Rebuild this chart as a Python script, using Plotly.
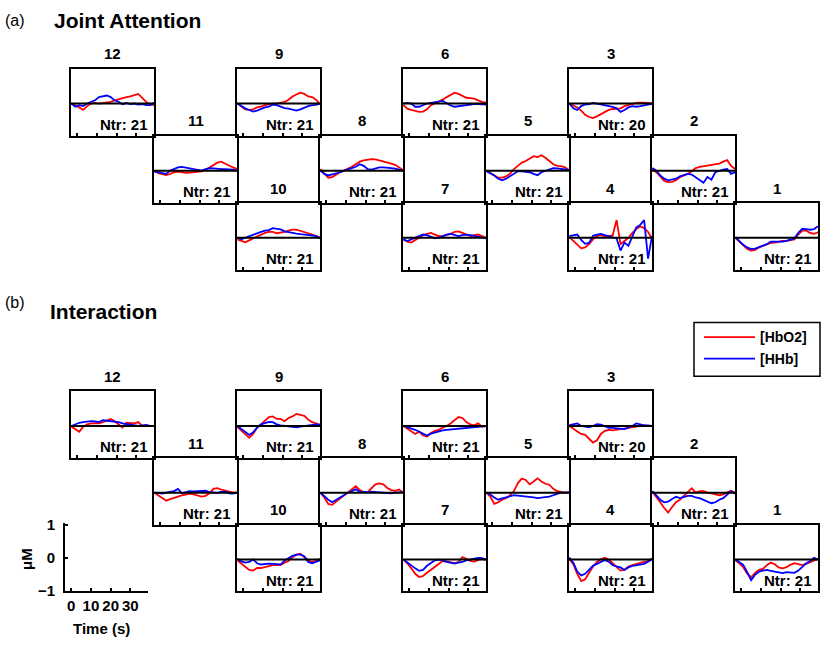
import plotly.graph_objects as go

# ---------------- data ----------------
TIME_S = [-3, -1, 1, 3, 5, 7, 9, 11, 13, 15, 17, 19, 21, 23, 25, 27, 29, 31, 33, 35, 37, 39]
X_TICKS = [0, 10, 20, 30]
X_TICK_TEXT = ["0", "10", "20", "30"]
Y_TICKS = [-1, 0, 1]
SERIES_NAMES = ["[HbO2]", "[HHb]"]
PANEL_LABELS = ["(a)", "(b)"]
PANEL_TITLES = ["Joint Attention", "Interaction"]
NTR_JOINT = {1: 21, 2: 21, 3: 20, 4: 21, 5: 21, 6: 21, 7: 21, 8: 21, 9: 21, 10: 21, 11: 21, 12: 21}
NTR_INTER = {1: 21, 2: 21, 3: 20, 4: 21, 5: 21, 6: 21, 7: 21, 8: 21, 9: 21, 10: 21, 11: 21, 12: 21}

# (a) Joint Attention, uM
JA_HBO2_CH12 = [0, -0.05, -0.12, -0.2, -0.08, 0.0, 0.02, 0.0, 0.02, 0.05, 0.05, 0.1, 0.14, 0.18, 0.2, 0.22, 0.26, 0.3, 0.18, 0.05, -0.03, -0.05]
JA_HHB_CH12 = [0, -0.1, -0.05, -0.08, 0.0, 0.05, 0.1, 0.2, 0.22, 0.25, 0.2, 0.1, 0.05, -0.02, 0.02, -0.02, 0.0, -0.03, -0.02, -0.05, -0.05, 0.02]
JA_HBO2_CH9 = [0, -0.1, -0.18, -0.2, -0.18, -0.12, -0.1, -0.05, -0.02, 0.0, 0.0, 0.02, 0.05, 0.12, 0.22, 0.28, 0.34, 0.3, 0.22, 0.2, 0.12, -0.02]
JA_HHB_CH9 = [0, -0.08, -0.15, -0.2, -0.25, -0.22, -0.16, -0.12, -0.1, -0.03, -0.05, -0.1, -0.14, -0.16, -0.2, -0.22, -0.18, -0.12, -0.08, -0.05, -0.04, 0.0]
JA_HBO2_CH6 = [-0.05, -0.16, -0.2, -0.24, -0.26, -0.25, -0.18, -0.05, 0.0, 0.05, 0.12, 0.2, 0.26, 0.34, 0.3, 0.25, 0.18, 0.17, 0.15, 0.1, 0.05, 0.03]
JA_HHB_CH6 = [0, 0.02, 0.0, -0.1, -0.1, -0.05, 0.0, 0.02, 0.03, 0.06, 0.08, 0.0, -0.06, -0.1, -0.08, -0.06, -0.05, -0.03, -0.02, -0.02, -0.02, -0.03]
JA_HBO2_CH3 = [0, -0.05, -0.12, -0.22, -0.35, -0.42, -0.45, -0.4, -0.33, -0.27, -0.2, -0.17, -0.17, -0.15, -0.08, -0.04, 0.0, 0.02, 0.03, 0.03, 0.02, 0.0]
JA_HHB_CH3 = [0, -0.15, -0.2, -0.08, -0.03, -0.02, 0.02, 0.0, -0.02, -0.05, -0.08, -0.1, -0.15, -0.26, -0.2, -0.12, -0.08, -0.1, -0.08, -0.05, -0.03, -0.01]
JA_HBO2_CH11 = [0, -0.08, -0.11, -0.14, -0.1, -0.05, -0.03, -0.05, -0.07, -0.06, -0.05, -0.03, -0.02, 0.02, 0.1, 0.18, 0.25, 0.28, 0.22, 0.14, 0.1, 0.05]
JA_HHB_CH11 = [-0.03, -0.05, -0.07, -0.1, 0.0, 0.06, 0.1, 0.12, 0.1, 0.08, 0.05, 0.02, 0.0, 0.05, 0.08, 0.07, 0.05, 0.05, 0.05, 0.05, 0.03, 0.0]
JA_HBO2_CH8 = [0.05, -0.1, -0.22, -0.2, -0.12, -0.05, 0.0, 0.05, 0.12, 0.2, 0.28, 0.32, 0.35, 0.36, 0.35, 0.32, 0.3, 0.26, 0.22, 0.18, 0.1, 0.02]
JA_HHB_CH8 = [0, -0.1, -0.15, -0.12, -0.1, -0.05, 0.0, 0.05, 0.08, 0.12, 0.2, 0.15, 0.05, 0.03, 0.07, 0.1, 0.1, 0.1, 0.08, 0.06, 0.04, 0.0]
JA_HBO2_CH5 = [0, -0.08, -0.15, -0.22, -0.22, -0.18, -0.1, 0.05, 0.15, 0.25, 0.3, 0.38, 0.45, 0.42, 0.48, 0.4, 0.3, 0.2, 0.15, 0.14, 0.1, 0.02]
JA_HHB_CH5 = [-0.02, -0.08, -0.15, -0.25, -0.3, -0.25, -0.18, -0.1, -0.02, -0.02, -0.04, -0.05, -0.1, -0.14, -0.05, 0.0, 0.05, 0.08, 0.07, 0.06, 0.04, 0.02]
JA_HBO2_CH2 = [0.05, -0.05, -0.18, -0.32, -0.36, -0.35, -0.3, -0.2, -0.15, -0.1, -0.02, 0.08, 0.12, 0.14, 0.15, 0.16, 0.2, 0.22, 0.28, 0.33, 0.15, 0.05]
JA_HHB_CH2 = [0.08, 0.0, -0.15, -0.25, -0.3, -0.28, -0.25, -0.18, -0.15, -0.1, -0.12, -0.2, -0.3, -0.38, -0.2, -0.28, -0.05, 0.0, 0.03, 0.05, -0.1, -0.05]
JA_HBO2_CH10 = [-0.05, -0.1, -0.14, -0.08, -0.02, 0.05, 0.1, 0.15, 0.18, 0.18, 0.14, 0.15, 0.18, 0.22, 0.25, 0.25, 0.22, 0.18, 0.14, 0.1, 0.05, 0.0]
JA_HHB_CH10 = [0, -0.05, 0.0, 0.05, 0.1, 0.14, 0.18, 0.22, 0.24, 0.3, 0.28, 0.26, 0.2, 0.17, 0.14, 0.13, 0.11, 0.1, 0.1, 0.09, 0.06, -0.02]
JA_HBO2_CH7 = [-0.05, -0.12, -0.15, -0.08, 0.0, 0.08, 0.12, 0.15, 0.1, 0.05, 0.05, 0.08, 0.12, 0.18, 0.2, 0.15, 0.1, 0.05, 0.08, 0.1, 0.05, 0.0]
JA_HHB_CH7 = [-0.05, -0.1, -0.05, 0.0, 0.05, 0.1, 0.08, 0.02, -0.02, 0.0, 0.05, 0.1, 0.12, 0.08, 0.05, 0.08, 0.1, 0.08, 0.05, 0.02, 0.0, -0.02]
JA_HBO2_CH4 = [0.02, -0.1, -0.22, -0.33, -0.3, -0.2, -0.05, 0.05, 0.08, 0.05, 0.05, 0.07, 0.55, -0.2, -0.1, 0.0, 0.15, 0.27, 0.35, 0.3, 0.18, -0.02]
JA_HHB_CH4 = [0.05, 0.08, 0.1, -0.07, -0.19, -0.16, 0.06, 0.1, 0.12, 0.08, 0.05, 0.02, -0.02, -0.4, -0.15, -0.25, 0.05, 0.32, 0.4, 0.55, -0.65, 0.05]
JA_HBO2_CH1 = [0.0, -0.12, -0.25, -0.35, -0.4, -0.38, -0.3, -0.25, -0.2, -0.16, -0.15, -0.12, -0.1, -0.1, -0.08, -0.05, 0.1, 0.22, 0.22, 0.15, 0.12, 0.17]
JA_HHB_CH1 = [0.02, -0.1, -0.22, -0.3, -0.35, -0.34, -0.3, -0.25, -0.2, -0.12, -0.12, -0.13, -0.12, -0.1, -0.05, -0.02, 0.15, 0.28, 0.27, 0.25, 0.27, 0.36]

# (b) Interaction, uM
IN_HBO2_CH12 = [-0.02, -0.1, -0.18, -0.02, 0.05, 0.08, 0.08, 0.08, 0.12, 0.18, 0.22, 0.15, 0.05, -0.05, 0.1, 0.08, 0.08, 0.12, 0.0, 0.0, 0.0, 0.0]
IN_HHB_CH12 = [0, 0.05, 0.1, 0.12, 0.14, 0.15, 0.14, 0.12, 0.18, 0.17, 0.16, 0.14, 0.12, 0.08, 0.06, 0.03, 0.02, 0.0, 0.02, 0.03, 0.0, 0.0]
IN_HBO2_CH9 = [-0.03, -0.15, -0.28, -0.37, -0.25, -0.05, 0.05, 0.15, 0.28, 0.3, 0.22, 0.22, 0.15, 0.25, 0.3, 0.38, 0.36, 0.32, 0.2, 0.12, 0.08, 0.03]
IN_HHB_CH9 = [0, -0.1, -0.2, -0.28, -0.2, -0.05, 0.05, 0.1, 0.13, 0.12, 0.05, 0.02, 0.0, -0.02, -0.03, -0.04, -0.02, 0.0, 0.03, 0.05, 0.05, 0.04]
IN_HBO2_CH6 = [0.0, -0.08, -0.15, -0.25, -0.18, -0.3, -0.33, -0.22, -0.15, -0.12, -0.05, 0.0, 0.08, 0.18, 0.28, 0.25, 0.12, 0.05, 0.02, 0.08, -0.02, 0.0]
IN_HHB_CH6 = [0.0, -0.05, -0.08, -0.12, -0.18, -0.26, -0.3, -0.24, -0.2, -0.18, -0.14, -0.12, -0.11, -0.1, -0.09, -0.07, -0.06, -0.04, -0.03, -0.02, -0.01, 0.0]
IN_HBO2_CH3 = [0.0, -0.1, -0.17, -0.25, -0.28, -0.4, -0.52, -0.45, -0.25, -0.15, -0.12, -0.14, -0.12, -0.1, -0.08, -0.05, -0.05, -0.03, 0.0, 0.02, 0.0, 0.0]
IN_HHB_CH3 = [0.03, 0.05, 0.08, 0.0, -0.02, -0.04, 0.0, 0.06, 0.04, -0.02, -0.06, -0.06, -0.08, -0.1, -0.1, -0.05, 0.0, 0.08, 0.05, 0.02, 0.02, 0.0]
IN_HBO2_CH11 = [0.0, -0.08, -0.15, -0.25, -0.2, -0.15, -0.12, -0.08, -0.05, -0.03, -0.05, -0.08, -0.12, -0.1, -0.02, 0.12, 0.14, 0.1, 0.07, 0.03, 0.0, 0.0]
IN_HHB_CH11 = [0.0, -0.02, -0.03, 0.0, 0.02, 0.05, 0.12, -0.02, 0.02, 0.05, 0.04, 0.04, 0.06, 0.06, 0.02, 0.0, -0.01, 0.03, 0.03, -0.02, -0.03, 0.0]
IN_HBO2_CH8 = [0.0, -0.15, -0.35, -0.38, -0.28, -0.18, -0.08, 0.02, 0.1, 0.2, 0.08, 0.02, 0.02, 0.15, 0.26, 0.29, 0.26, 0.15, 0.08, 0.06, 0.1, 0.0]
IN_HHB_CH8 = [0.0, -0.12, -0.22, -0.3, -0.22, -0.15, -0.08, 0.0, 0.05, 0.11, 0.03, 0.02, 0.02, 0.03, 0.02, 0.01, 0.0, -0.03, -0.02, 0.0, 0.01, 0.02]
IN_HBO2_CH5 = [0.0, -0.12, -0.35, -0.3, -0.22, -0.17, -0.08, 0.05, 0.3, 0.44, 0.4, 0.26, 0.35, 0.45, 0.35, 0.28, 0.25, 0.12, 0.05, 0.02, 0.0, 0.0]
IN_HHB_CH5 = [0.0, -0.06, -0.15, -0.22, -0.18, -0.14, -0.12, -0.08, -0.09, -0.1, -0.12, -0.13, -0.15, -0.17, -0.16, -0.15, -0.12, -0.08, -0.04, 0.0, 0.0, 0.02]
IN_HBO2_CH2 = [0.03, -0.12, -0.3, -0.48, -0.62, -0.45, -0.3, -0.22, -0.1, 0.05, 0.14, 0.0, 0.05, 0.05, 0.0, -0.02, -0.05, -0.08, -0.05, 0.0, 0.06, 0.0]
IN_HHB_CH2 = [0.05, -0.08, -0.22, -0.3, -0.28, -0.2, -0.13, -0.17, -0.14, -0.1, -0.1, -0.15, -0.17, -0.22, -0.27, -0.33, -0.3, -0.22, -0.17, -0.05, 0.05, -0.03]
IN_HBO2_CH10 = [-0.03, -0.14, -0.25, -0.33, -0.35, -0.27, -0.27, -0.24, -0.22, -0.18, -0.18, -0.17, -0.1, -0.05, 0.07, 0.15, 0.18, 0.07, -0.03, -0.08, -0.05, 0.02]
IN_HHB_CH10 = [0.02, -0.06, -0.1, -0.08, 0.0, -0.12, -0.16, -0.14, -0.13, -0.14, -0.15, -0.16, -0.03, 0.05, 0.11, 0.15, 0.15, 0.1, -0.08, -0.12, -0.08, -0.03]
IN_HBO2_CH7 = [0.0, -0.12, -0.28, -0.45, -0.55, -0.52, -0.42, -0.32, -0.22, -0.13, -0.05, -0.06, -0.08, -0.12, -0.08, 0.07, 0.02, -0.05, -0.07, -0.02, 0.02, -0.02]
IN_HHB_CH7 = [0.0, -0.1, -0.2, -0.28, -0.36, -0.33, -0.2, -0.1, -0.03, -0.01, -0.03, -0.08, -0.1, -0.13, -0.1, -0.08, -0.03, 0.0, 0.02, 0.05, 0.04, 0.0]
IN_HBO2_CH4 = [0.0, -0.15, -0.45, -0.68, -0.62, -0.4, -0.22, -0.08, 0.0, 0.05, 0.0, -0.12, -0.24, -0.35, -0.32, -0.22, -0.18, -0.14, -0.1, -0.08, -0.05, 0.03]
IN_HHB_CH4 = [0.06, -0.1, -0.38, -0.5, -0.45, -0.33, -0.2, -0.14, -0.08, -0.02, -0.07, -0.18, -0.22, -0.25, -0.33, -0.25, -0.2, -0.19, -0.16, -0.14, -0.08, 0.0]
IN_HBO2_CH1 = [-0.03, -0.12, -0.25, -0.45, -0.56, -0.42, -0.33, -0.3, -0.18, -0.1, -0.15, -0.25, -0.28, -0.24, -0.17, -0.12, -0.15, -0.18, -0.14, -0.08, -0.03, 0.0]
IN_HHB_CH1 = [0.0, -0.08, -0.17, -0.4, -0.65, -0.48, -0.38, -0.35, -0.33, -0.36, -0.38, -0.42, -0.43, -0.4, -0.4, -0.42, -0.35, -0.22, -0.12, -0.05, 0.05, 0.0]

JA_HBO2 = {1: JA_HBO2_CH1, 2: JA_HBO2_CH2, 3: JA_HBO2_CH3, 4: JA_HBO2_CH4, 5: JA_HBO2_CH5, 6: JA_HBO2_CH6,
           7: JA_HBO2_CH7, 8: JA_HBO2_CH8, 9: JA_HBO2_CH9, 10: JA_HBO2_CH10, 11: JA_HBO2_CH11, 12: JA_HBO2_CH12}
JA_HHB = {1: JA_HHB_CH1, 2: JA_HHB_CH2, 3: JA_HHB_CH3, 4: JA_HHB_CH4, 5: JA_HHB_CH5, 6: JA_HHB_CH6,
          7: JA_HHB_CH7, 8: JA_HHB_CH8, 9: JA_HHB_CH9, 10: JA_HHB_CH10, 11: JA_HHB_CH11, 12: JA_HHB_CH12}
IN_HBO2 = {1: IN_HBO2_CH1, 2: IN_HBO2_CH2, 3: IN_HBO2_CH3, 4: IN_HBO2_CH4, 5: IN_HBO2_CH5, 6: IN_HBO2_CH6,
           7: IN_HBO2_CH7, 8: IN_HBO2_CH8, 9: IN_HBO2_CH9, 10: IN_HBO2_CH10, 11: IN_HBO2_CH11, 12: IN_HBO2_CH12}
IN_HHB = {1: IN_HHB_CH1, 2: IN_HHB_CH2, 3: IN_HHB_CH3, 4: IN_HHB_CH4, 5: IN_HHB_CH5, 6: IN_HHB_CH6,
          7: IN_HHB_CH7, 8: IN_HHB_CH8, 9: IN_HHB_CH9, 10: IN_HHB_CH10, 11: IN_HHB_CH11, 12: IN_HHB_CH12}

# ---------------- layout (pixel geometry) ----------------
W, H = 825, 647
FONT = "Liberation Sans, Arial, Helvetica, sans-serif"
RED, BLUE = "#ff0000", "#0000ff"
X_RANGE = [-3.2, 39]
Y_RANGE = [-1, 1.09]
COL_X0, COL_W = 71, 83
# channel -> (row, column) in the probe layout
CH_POS = {12: (0, 0), 9: (0, 2), 6: (0, 4), 3: (0, 6),
          11: (1, 1), 8: (1, 3), 5: (1, 5), 2: (1, 7),
          10: (2, 2), 7: (2, 4), 4: (2, 6), 1: (2, 8)}
PANELS = [
    dict(top=63.0, h=68.7, hbo2=JA_HBO2, hhb=JA_HHB, ntr=NTR_JOINT),
    dict(top=393.3, h=68.3, hbo2=IN_HBO2, hhb=IN_HHB, ntr=NTR_INTER),
]


def fx(x):
    return x / W


def fy(y):
    return 1 - y / H


fig = go.Figure()
layout_axes = {}
shapes = []
annotations = []
n = 0

for panel in PANELS:
    for ch in range(12, 0, -1):
        row, col = CH_POS[ch]
        x0 = COL_X0 + col * COL_W
        x1 = x0 + COL_W
        yt = panel["top"] + row * panel["h"]
        yb = yt + panel["h"]
        n += 1
        s = "" if n == 1 else str(n)
        layout_axes["xaxis" + s] = dict(
            domain=[fx(x0), fx(x1)], range=X_RANGE, anchor="y" + s,
            showline=True, mirror=True, linecolor="black", linewidth=2,
            ticks="inside", tickvals=X_TICKS, ticklen=3, tickwidth=1.5, tickcolor="black",
            showticklabels=False, showgrid=False, zeroline=False, fixedrange=True)
        layout_axes["yaxis" + s] = dict(
            domain=[fy(yb), fy(yt)], range=Y_RANGE, anchor="x" + s,
            showline=True, mirror=True, linecolor="black", linewidth=2,
            ticks="", showticklabels=False, showgrid=False, zeroline=False, fixedrange=True)
        fig.add_trace(go.Scatter(x=TIME_S, y=panel["hbo2"][ch], mode="lines",
                                 line=dict(color=RED, width=1.8), name=SERIES_NAMES[0],
                                 showlegend=False, xaxis="x" + s, yaxis="y" + s))
        fig.add_trace(go.Scatter(x=TIME_S, y=panel["hhb"][ch], mode="lines",
                                 line=dict(color=BLUE, width=1.8), name=SERIES_NAMES[1],
                                 showlegend=False, xaxis="x" + s, yaxis="y" + s))
        shapes.append(dict(type="line", xref=f"x{s} domain", yref="y" + s, x0=0, x1=1, y0=0, y1=0,
                           line=dict(color="black", width=2), layer="above"))
        annotations.append(dict(x=fx((x0 + x1) / 2), y=fy(yt - 15), xref="paper", yref="paper",
                                text=f"<b>{ch}</b>", showarrow=False, xanchor="center", yanchor="middle",
                                font=dict(family=FONT, size=15, color="black")))
        annotations.append(dict(x=fx(x1 - 4), y=fy(yb - 11.5), xref="paper", yref="paper",
                                text=f"<b>Ntr: {panel['ntr'][ch]}</b>", showarrow=False,
                                xanchor="right", yanchor="middle",
                                font=dict(family=FONT, size=15, color="black")))

# scale-bar axes (bottom left)
n += 1
s = str(n)
layout_axes["xaxis" + s] = dict(
    domain=[fx(65), fx(148)], range=X_RANGE, anchor="y" + s,
    showline=True, mirror=False, linecolor="black", linewidth=2,
    ticks="inside", tickvals=X_TICKS, ticktext=X_TICK_TEXT, ticklen=3, tickwidth=1.5, tickcolor="black",
    showticklabels=True, tickfont=dict(family=FONT, size=15, color="black", weight="bold"),
    showgrid=False, zeroline=False, fixedrange=True)
layout_axes["yaxis" + s] = dict(
    domain=[fy(598), fy(528.5)], range=[-1, 1.05], anchor="x" + s,
    showline=True, mirror=False, linecolor="black", linewidth=2,
    ticks="inside", tickvals=Y_TICKS, ticklen=3, tickwidth=1.5, tickcolor="black",
    showticklabels=True, tickfont=dict(family=FONT, size=15, color="black", weight="bold"),
    ticklabelstandoff=5,
    showgrid=False, zeroline=False, fixedrange=True)
fig.add_trace(go.Scatter(x=[], y=[], mode="lines", showlegend=False, xaxis="x" + s, yaxis="y" + s))
annotations.append(dict(x=fx(101), y=fy(636), xref="paper", yref="paper", text="<b>Time (s)</b>",
                        showarrow=False, xanchor="center", yanchor="middle",
                        font=dict(family=FONT, size=15, color="black")))
annotations.append(dict(x=fx(27), y=fy(565), xref="paper", yref="paper", text="<b>μM</b>",
                        showarrow=False, xanchor="center", yanchor="middle", textangle=-90,
                        font=dict(family=FONT, size=15, color="black")))

# panel labels and titles
annotations.append(dict(x=fx(3), y=fy(14), xref="paper", yref="paper", text=PANEL_LABELS[0],
                        showarrow=False, xanchor="left", yanchor="middle",
                        font=dict(family=FONT, size=16, color="black")))
annotations.append(dict(x=fx(52), y=fy(14), xref="paper", yref="paper", text=f"<b>{PANEL_TITLES[0]}</b>",
                        showarrow=False, xanchor="left", yanchor="middle",
                        font=dict(family=FONT, size=21, color="black")))
annotations.append(dict(x=fx(3), y=fy(303), xref="paper", yref="paper", text=PANEL_LABELS[1],
                        showarrow=False, xanchor="left", yanchor="middle",
                        font=dict(family=FONT, size=16, color="black")))
annotations.append(dict(x=fx(48), y=fy(312), xref="paper", yref="paper", text=f"<b>{PANEL_TITLES[1]}</b>",
                        showarrow=False, xanchor="left", yanchor="middle",
                        font=dict(family=FONT, size=21, color="black")))

# legend box
shapes.append(dict(type="rect", xref="paper", yref="paper", x0=fx(694), x1=fx(820), y0=fy(378), y1=fy(323),
                   line=dict(color="black", width=1.5), fillcolor="white", layer="above"))
for i, (name, color) in enumerate(zip(SERIES_NAMES, [RED, BLUE])):
    yy = 338 + 22 * i
    shapes.append(dict(type="line", xref="paper", yref="paper", x0=fx(704), x1=fx(755), y0=fy(yy), y1=fy(yy),
                       line=dict(color=color, width=1.8), layer="above"))
    annotations.append(dict(x=fx(758), y=fy(yy), xref="paper", yref="paper", text=f"<b>{name}</b>",
                            showarrow=False, xanchor="left", yanchor="middle",
                            font=dict(family=FONT, size=14, color="black")))

fig.update_layout(
    width=W, height=H, autosize=False,
    margin=dict(l=0, r=0, t=0, b=0),
    paper_bgcolor="white", plot_bgcolor="white",
    showlegend=False,
    shapes=shapes, annotations=annotations,
    **layout_axes,
)

fig.write_html("out.html", config={"displayModeBar": False},
               post_script="document.body.style.margin='0';document.body.style.overflow='hidden';")
